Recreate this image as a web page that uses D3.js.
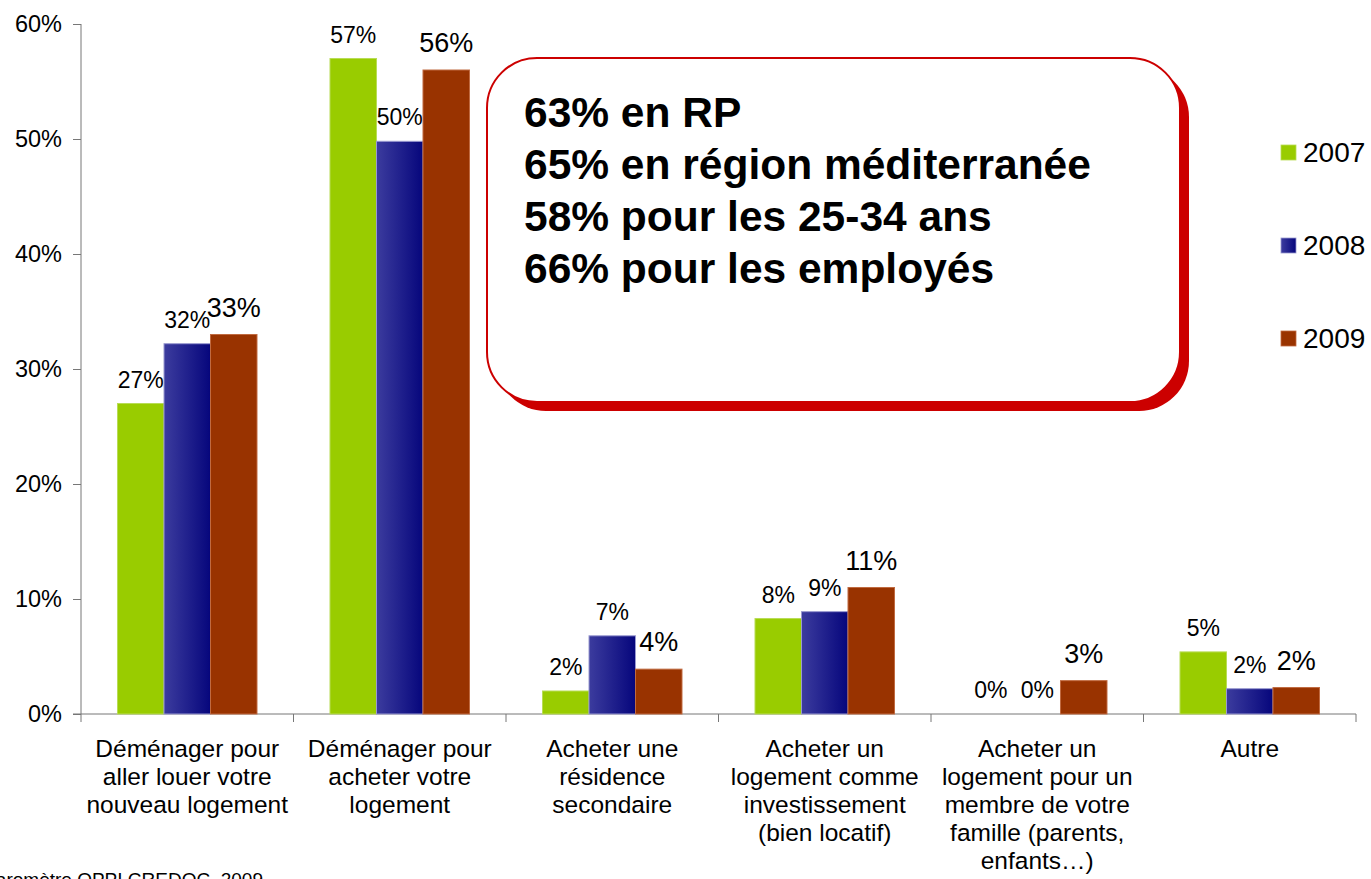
<!DOCTYPE html>
<html>
<head>
<meta charset="utf-8">
<script src="https://cdn.jsdelivr.net/npm/d3@7"></script>
<style>
  html, body { margin: 0; padding: 0; background: #fff; }
  svg { display: block; font-family: "Liberation Sans", Arial, sans-serif; }
</style>
</head>
<body>
<div id="chart"></div>
<script>
// data
var categories = [
  ["Déménager pour", "aller louer votre", "nouveau logement"],
  ["Déménager pour", "acheter votre", "logement"],
  ["Acheter une", "résidence", "secondaire"],
  ["Acheter un", "logement comme", "investissement", "(bien locatif)"],
  ["Acheter un", "logement pour un", "membre de votre", "famille (parents,", "enfants…)"],
  ["Autre"]
];
var series = ["2007", "2008", "2009"];
var values2007 = [27, 57, 2, 8.3, 0, 5.4];
var values2008 = [32.2, 49.8, 6.8, 8.9, 0, 2.2];
var values2009 = [33, 56, 3.9, 11, 2.9, 2.3];
var labels2007 = ["27%", "57%", "2%", "8%", "0%", "5%"];
var labels2008 = ["32%", "50%", "7%", "9%", "0%", "2%"];
var labels2009 = ["33%", "56%", "4%", "11%", "3%", "2%"];
var yTicks = [0, 10, 20, 30, 40, 50, 60];
var calloutLines = ["63% en RP", "65% en région méditerranée", "58% pour les 25-34 ans", "66% pour les employés"];
var sourceText = "Baromètre OPPI CREDOC, 2009";

var renderChart = function(){
  var allValues = [values2007, values2008, values2009];
  var allLabels = [labels2007, labels2008, labels2009];

  var width = 1371, height = 879;
  var left = 81, right = 1356, plotTop = 24, bottom = 714;

  var svg = d3.select("#chart").append("svg")
    .attr("width", width).attr("height", height);

  var defs = svg.append("defs");
  var grad = defs.append("linearGradient").attr("id", "blueGrad")
    .attr("x1", "0%").attr("x2", "100%").attr("y1", "0%").attr("y2", "0%");
  grad.append("stop").attr("offset", "0%").attr("stop-color", "#3c3c9e");
  grad.append("stop").attr("offset", "100%").attr("stop-color", "#06067c");

  var fills = ["#99cc00", "url(#blueGrad)", "#993300"];
  var strokes = ["#b8dc55", "#9a9ad0", "#c06a40"];

  var y = d3.scaleLinear().domain([0, 60]).range([bottom, plotTop]);
  var x0 = d3.scaleBand().domain(d3.range(categories.length)).range([left, right]);
  var x1 = d3.scaleBand().domain(series).range([0, x0.bandwidth()]).paddingOuter(0.785);

  // y axis
  var yAxis = svg.append("g").attr("transform", "translate(" + left + ",0)")
    .call(d3.axisLeft(y).tickValues(yTicks).tickFormat(function(d){ return d + "%"; }).tickSize(8).tickPadding(11));
  yAxis.select(".domain").attr("stroke", "#777").attr("d", "M0," + plotTop + "V" + bottom);
  yAxis.selectAll(".tick line").attr("stroke", "#777");
  yAxis.selectAll(".tick text").attr("font-size", 23.5).attr("fill", "#000")
    .attr("font-family", "Liberation Sans, Arial, sans-serif");

  // x axis line + ticks
  var xg = svg.append("g");
  xg.append("line").attr("x1", left - 8).attr("x2", right).attr("y1", bottom).attr("y2", bottom)
    .attr("stroke", "#777");
  var bounds = x0.domain().map(function(d){ return x0(d); }).concat([right]);
  xg.selectAll("line.tk").data(bounds).enter().append("line").attr("class", "tk")
    .attr("x1", function(d){ return d; }).attr("x2", function(d){ return d; })
    .attr("y1", bottom).attr("y2", bottom + 8).attr("stroke", "#777");

  // category labels
  var catG = svg.append("g").selectAll("text").data(categories).enter().append("text")
    .attr("text-anchor", "middle").attr("font-size", 24.5).attr("fill", "#000")
    .attr("x", function(d, i){ return x0(i) + x0.bandwidth() / 2; });
  catG.selectAll("tspan").data(function(d){ return d; }).enter().append("tspan")
    .attr("x", function(){ return this.parentNode.getAttribute("x"); })
    .attr("y", function(d, j){ return 757 + j * 28; })
    .text(function(d){ return d; });

  // bars
  series.forEach(function(s, si){
    var g = svg.append("g");
    g.selectAll("rect").data(allValues[si]).enter().append("rect")
      .attr("x", function(d, i){ return x0(i) + x1(s); })
      .attr("width", x1.bandwidth())
      .attr("y", function(d){ return y(d); })
      .attr("height", function(d){ return bottom - y(d); })
      .attr("fill", fills[si])
      .attr("stroke", strokes[si]).attr("stroke-width", function(d){ return d > 0 ? 1 : 0; });
    g.selectAll("text").data(allValues[si]).enter().append("text")
      .attr("text-anchor", "middle")
      .attr("font-size", si == 2 ? 27 : 23)
      .attr("x", function(d, i){ return x0(i) + x1(s) + x1.bandwidth() / 2; })
      .attr("y", function(d){ return y(d) - (si == 2 ? 18 : 16); })
      .text(function(d, i){ return allLabels[si][i]; });
  });

  // callout box
  var bx = 487, by = 58, bw = 693, bh = 344, r = 50;
  svg.append("rect").attr("x", bx + 9).attr("y", by + 9).attr("width", bw).attr("height", bh)
    .attr("rx", r).attr("fill", "#cc0000");
  svg.append("rect").attr("x", bx).attr("y", by).attr("width", bw).attr("height", bh)
    .attr("rx", r).attr("fill", "#fff").attr("stroke", "#cc0000").attr("stroke-width", 2);
  svg.append("g").selectAll("text").data(calloutLines).enter().append("text")
    .attr("x", 524).attr("y", function(d, i){ return 127 + i * 52; })
    .attr("font-size", 42.5).attr("font-weight", "bold").attr("fill", "#000")
    .text(function(d){ return d; });

  // legend
  var leg = svg.append("g").selectAll("g").data(series).enter().append("g")
    .attr("transform", function(d, i){ return "translate(1281," + (145 + i * 93) + ")"; });
  leg.append("rect").attr("width", 15).attr("height", 15)
    .attr("fill", function(d, i){ return fills[i]; })
    .attr("stroke", function(d, i){ return strokes[i]; }).attr("stroke-width", 0.8);
  leg.append("text").attr("x", 22).attr("y", 17).attr("font-size", 28)
    .text(function(d){ return d; });

  // source
  svg.append("text").attr("x", 263).attr("y", 886).attr("text-anchor", "end")
    .attr("font-size", 19).text(sourceText);
}

renderChart();
</script>
</body>
</html>
